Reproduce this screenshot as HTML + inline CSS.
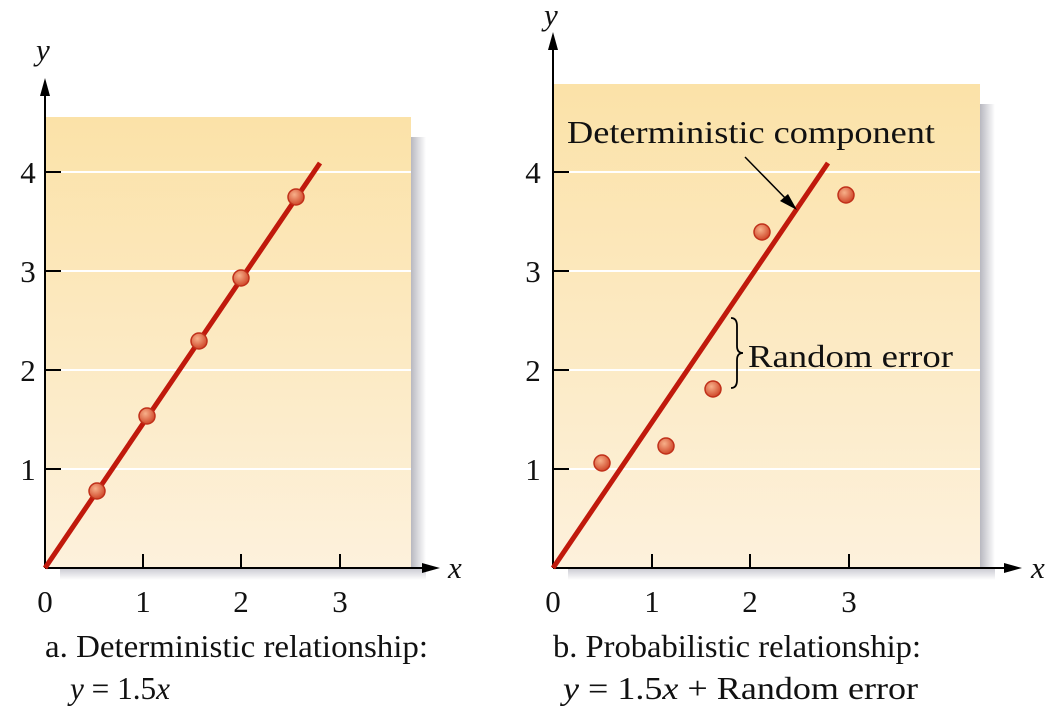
<!DOCTYPE html>
<html><head><style>body{margin:0;background:#fff}svg{display:block}text{font-family:"Liberation Serif",serif;fill:#111}</style></head><body>
<svg width="1063" height="714" viewBox="0 0 1063 714">
<defs>
<linearGradient id="bg" x1="0" y1="0" x2="0" y2="1"><stop offset="0" stop-color="#fbe2a8"/><stop offset="1" stop-color="#fdf1dc"/></linearGradient>
<linearGradient id="sh" x1="0" y1="0" x2="1" y2="0"><stop offset="0" stop-color="#b8b8c0"/><stop offset="1" stop-color="#ffffff"/></linearGradient>
<linearGradient id="shb" x1="0" y1="0" x2="0" y2="1"><stop offset="0" stop-color="#c8c8d0"/><stop offset="1" stop-color="#ffffff"/></linearGradient>
<radialGradient id="pt" cx="0.4" cy="0.35" r="0.65"><stop offset="0" stop-color="#f7b08a"/><stop offset="1" stop-color="#d0482a"/></radialGradient>
</defs>
<!-- left panel -->
<rect x="411" y="137" width="15" height="440" fill="url(#sh)"/>
<rect x="60" y="568" width="366" height="12" fill="url(#shb)"/>
<rect x="45" y="117" width="366" height="451" fill="url(#bg)"/>
<g stroke="#fff" stroke-width="2"><line x1="45" y1="172" x2="411" y2="172"/><line x1="45" y1="271" x2="411" y2="271"/><line x1="45" y1="370" x2="411" y2="370"/><line x1="45" y1="469" x2="411" y2="469"/></g>
<g stroke="#000" stroke-width="2"><line x1="45" y1="568" x2="45" y2="90"/><line x1="45" y1="568" x2="425" y2="568"/>
<line x1="45" y1="172" x2="61" y2="172"/><line x1="45" y1="271" x2="61" y2="271"/><line x1="45" y1="370" x2="61" y2="370"/><line x1="45" y1="469" x2="61" y2="469"/>
<line x1="143" y1="568" x2="143" y2="554"/><line x1="241" y1="568" x2="241" y2="554"/><line x1="340" y1="568" x2="340" y2="554"/></g>
<polygon points="45,78 40,96 50,96" fill="#000"/><polygon points="440,568 422,563 422,573" fill="#000"/>
<line x1="45" y1="568" x2="320" y2="163" stroke="#c0190c" stroke-width="5"/>
<g fill="url(#pt)" stroke="#c0301a" stroke-width="1.5"><circle cx="97" cy="491" r="8"/><circle cx="147" cy="416" r="8"/><circle cx="199" cy="341" r="8"/><circle cx="241" cy="278" r="8"/><circle cx="296" cy="197" r="8"/></g>
<g font-size="31" text-anchor="middle"><text x="28" y="183">4</text><text x="28" y="282">3</text><text x="28" y="381">2</text><text x="28" y="480">1</text>
<text x="45" y="612">0</text><text x="143" y="612">1</text><text x="241" y="612">2</text><text x="340" y="612">3</text></g>
<text x="36" y="60" font-size="31" font-style="italic">y</text><text x="448" y="578" font-size="31" font-style="italic">x</text>
<!-- right panel -->
<rect x="980" y="104" width="15" height="473" fill="url(#sh)"/>
<rect x="568" y="568" width="427" height="12" fill="url(#shb)"/>
<rect x="553" y="84" width="427" height="484" fill="url(#bg)"/>
<g stroke="#fff" stroke-width="2"><line x1="553" y1="172" x2="980" y2="172"/><line x1="553" y1="271" x2="980" y2="271"/><line x1="553" y1="370" x2="980" y2="370"/><line x1="553" y1="469" x2="980" y2="469"/></g>
<g stroke="#000" stroke-width="2"><line x1="553" y1="568" x2="553" y2="45"/><line x1="553" y1="568" x2="1008" y2="568"/>
<line x1="553" y1="172" x2="569" y2="172"/><line x1="553" y1="271" x2="569" y2="271"/><line x1="553" y1="370" x2="569" y2="370"/><line x1="553" y1="469" x2="569" y2="469"/>
<line x1="652" y1="568" x2="652" y2="554"/><line x1="750" y1="568" x2="750" y2="554"/><line x1="849" y1="568" x2="849" y2="554"/></g>
<polygon points="553,32 548,50 558,50" fill="#000"/><polygon points="1022,568 1004,563 1004,573" fill="#000"/>
<line x1="553" y1="568" x2="828" y2="163" stroke="#c0190c" stroke-width="5"/>
<g fill="url(#pt)" stroke="#c0301a" stroke-width="1.5"><circle cx="602" cy="463" r="8"/><circle cx="666" cy="446" r="8"/><circle cx="713" cy="389" r="8"/><circle cx="762" cy="232" r="8"/><circle cx="846" cy="195" r="8"/></g>
<g font-size="31" text-anchor="middle"><text x="533" y="183">4</text><text x="533" y="282">3</text><text x="533" y="381">2</text><text x="533" y="480">1</text>
<text x="553" y="612">0</text><text x="652" y="612">1</text><text x="750" y="612">2</text><text x="849" y="612">3</text></g>
<text x="544" y="25" font-size="31" font-style="italic">y</text><text x="1031" y="578" font-size="31" font-style="italic">x</text>
<text x="567" y="143" font-size="32" textLength="368" lengthAdjust="spacingAndGlyphs">Deterministic component</text>
<line x1="745" y1="157" x2="790" y2="203" stroke="#000" stroke-width="1.5"/><polygon points="797,210 780,201 788,194" fill="#000"/>
<path d="M731,318 Q737,318 737,326 L737,346 Q737,353 743,353 Q737,353 737,360 L737,380 Q737,388 731,388" fill="none" stroke="#000" stroke-width="1.8"/>
<text x="748" y="367" font-size="32" textLength="205" lengthAdjust="spacingAndGlyphs">Random error</text>
<!-- captions -->
<text x="45" y="657" font-size="32" textLength="383" lengthAdjust="spacingAndGlyphs">a. Deterministic relationship:</text>
<text x="70" y="699" font-size="32" textLength="100" lengthAdjust="spacingAndGlyphs"><tspan font-style="italic">y</tspan> = 1.5<tspan font-style="italic">x</tspan></text>
<text x="553" y="657" font-size="32" textLength="368" lengthAdjust="spacingAndGlyphs">b. Probabilistic relationship:</text>
<text x="563" y="699" font-size="32" textLength="355" lengthAdjust="spacingAndGlyphs"><tspan font-style="italic">y</tspan> = 1.5<tspan font-style="italic">x</tspan> + Random error</text>
</svg>
</body></html>
